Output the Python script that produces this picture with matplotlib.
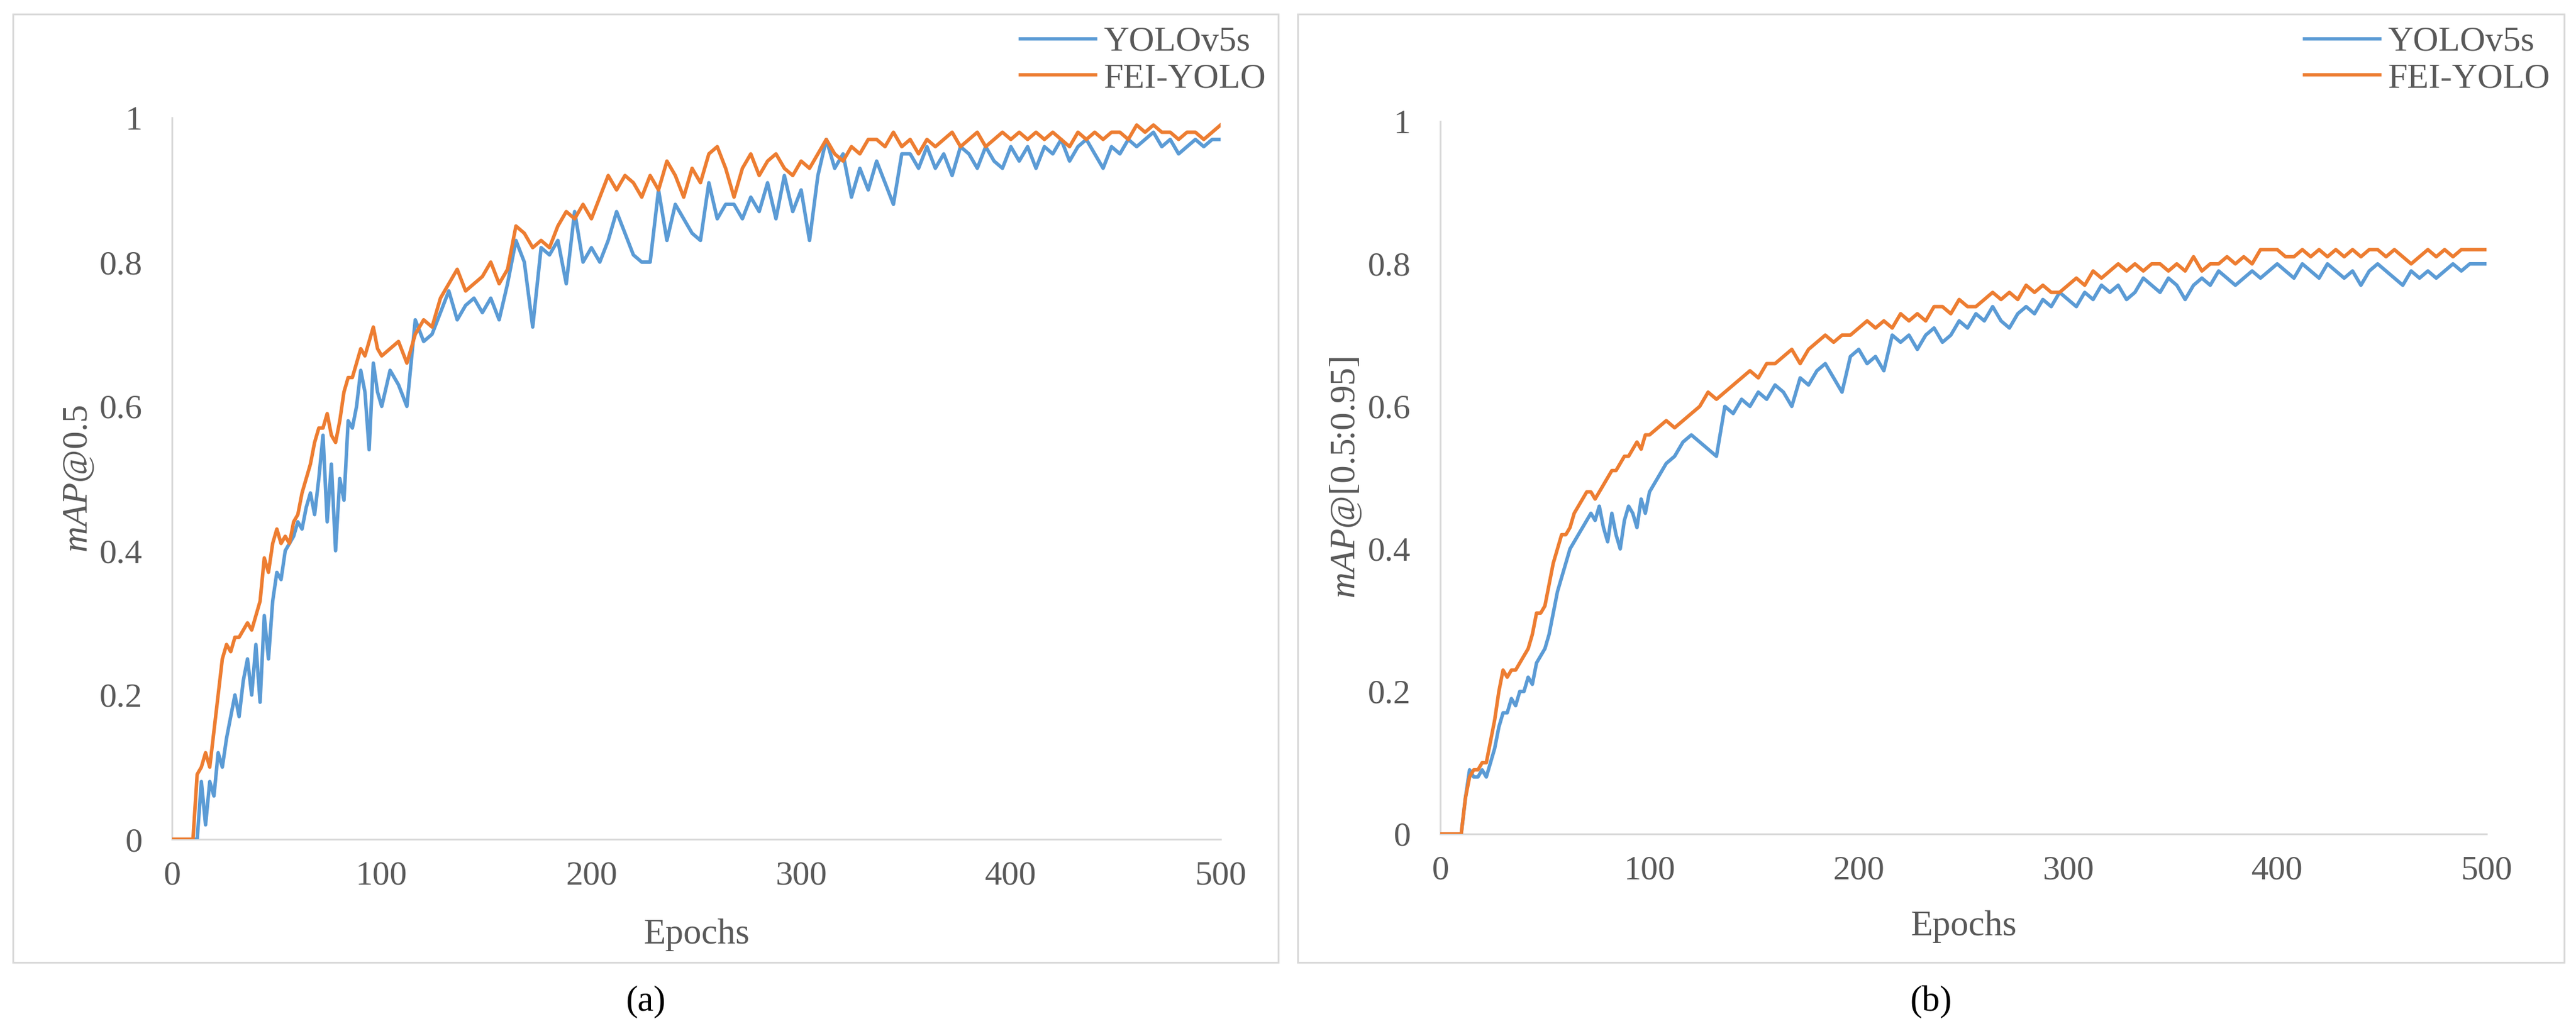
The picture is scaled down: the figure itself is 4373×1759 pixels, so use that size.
import matplotlib
matplotlib.use("Agg")
import matplotlib.pyplot as plt
from matplotlib.patches import Rectangle

plt.rcParams['font.family'] = ['Liberation Serif', 'DejaVu Serif']
plt.rcParams['mathtext.fontset'] = 'custom'
plt.rcParams['mathtext.it'] = 'Liberation Serif:italic'
plt.rcParams['mathtext.rm'] = 'Liberation Serif'

# ---------------- data ----------------
epochs = list(range(0, 101, 2)) + list(range(104, 501, 4))

yolo_a = [
    0, 0, 0, 0, 0, 0, 0.00, 0.08, 0.02, 0.08,
    0.06, 0.12, 0.10, 0.14, 0.17, 0.20, 0.17, 0.22, 0.25, 0.20,
    0.27, 0.19, 0.31, 0.25, 0.33, 0.37, 0.36, 0.40, 0.41, 0.42,
    0.44, 0.43, 0.46, 0.48, 0.45, 0.50, 0.56, 0.44, 0.52, 0.40,
    0.50, 0.47, 0.58, 0.57, 0.60, 0.65, 0.62, 0.54, 0.66, 0.62,
    0.60,
    0.65, 0.63, 0.60, 0.72, 0.69, 0.70, 0.73, 0.76, 0.72, 0.74,
    0.75, 0.73, 0.75, 0.72, 0.77, 0.83, 0.80, 0.71, 0.82, 0.81,
    0.83, 0.77, 0.87, 0.80, 0.82, 0.80, 0.83, 0.87, 0.84, 0.81,
    0.80, 0.80, 0.90, 0.83, 0.88, 0.86, 0.84, 0.83, 0.91, 0.86,
    0.88, 0.88, 0.86, 0.89, 0.87, 0.91, 0.86, 0.92, 0.87, 0.90,
    0.83, 0.92, 0.97, 0.93, 0.95, 0.89, 0.93, 0.90, 0.94, 0.91,
    0.88, 0.95, 0.95, 0.93, 0.96, 0.93, 0.95, 0.92, 0.96, 0.95,
    0.93, 0.96, 0.94, 0.93, 0.96, 0.94, 0.96, 0.93, 0.96, 0.95,
    0.97, 0.94, 0.96, 0.97, 0.95, 0.93, 0.96, 0.95, 0.97, 0.96,
    0.97, 0.98, 0.96, 0.97, 0.95, 0.96, 0.97, 0.96, 0.97, 0.97,
]

fei_a = [
    0, 0, 0, 0, 0, 0.00, 0.09, 0.10, 0.12, 0.10,
    0.15, 0.20, 0.25, 0.27, 0.26, 0.28, 0.28, 0.29, 0.30, 0.29,
    0.31, 0.33, 0.39, 0.37, 0.41, 0.43, 0.41, 0.42, 0.41, 0.44,
    0.45, 0.48, 0.50, 0.52, 0.55, 0.57, 0.57, 0.59, 0.56, 0.55,
    0.58, 0.62, 0.64, 0.64, 0.66, 0.68, 0.67, 0.69, 0.71, 0.68,
    0.67,
    0.68, 0.69, 0.66, 0.70, 0.72, 0.71, 0.75, 0.77, 0.79, 0.76,
    0.77, 0.78, 0.80, 0.77, 0.79, 0.85, 0.84, 0.82, 0.83, 0.82,
    0.85, 0.87, 0.86, 0.88, 0.86, 0.89, 0.92, 0.90, 0.92, 0.91,
    0.89, 0.92, 0.90, 0.94, 0.92, 0.89, 0.93, 0.91, 0.95, 0.96,
    0.93, 0.89, 0.93, 0.95, 0.92, 0.94, 0.95, 0.93, 0.92, 0.94,
    0.93, 0.95, 0.97, 0.95, 0.94, 0.96, 0.95, 0.97, 0.97, 0.96,
    0.98, 0.96, 0.97, 0.95, 0.97, 0.96, 0.97, 0.98, 0.96, 0.97,
    0.98, 0.96, 0.97, 0.98, 0.97, 0.98, 0.97, 0.98, 0.97, 0.98,
    0.97, 0.96, 0.98, 0.97, 0.98, 0.97, 0.98, 0.98, 0.97, 0.99,
    0.98, 0.99, 0.98, 0.98, 0.97, 0.98, 0.98, 0.97, 0.98, 0.99,
]

yolo_b = [
    0, 0, 0, 0, 0, 0, 0.05, 0.09, 0.08, 0.08,
    0.09, 0.08, 0.10, 0.12, 0.15, 0.17, 0.17, 0.19, 0.18, 0.20,
    0.20, 0.22, 0.21, 0.24, 0.25, 0.26, 0.28, 0.31, 0.34, 0.36,
    0.38, 0.40, 0.41, 0.42, 0.43, 0.44, 0.45, 0.44, 0.46, 0.43,
    0.41, 0.45, 0.42, 0.40, 0.44, 0.46, 0.45, 0.43, 0.47, 0.45,
    0.48,
    0.50, 0.52, 0.53, 0.55, 0.56, 0.55, 0.54, 0.53, 0.60, 0.59,
    0.61, 0.60, 0.62, 0.61, 0.63, 0.62, 0.60, 0.64, 0.63, 0.65,
    0.66, 0.64, 0.62, 0.67, 0.68, 0.66, 0.67, 0.65, 0.70, 0.69,
    0.70, 0.68, 0.70, 0.71, 0.69, 0.70, 0.72, 0.71, 0.73, 0.72,
    0.74, 0.72, 0.71, 0.73, 0.74, 0.73, 0.75, 0.74, 0.76, 0.75,
    0.74, 0.76, 0.75, 0.77, 0.76, 0.77, 0.75, 0.76, 0.78, 0.77,
    0.76, 0.78, 0.77, 0.75, 0.77, 0.78, 0.77, 0.79, 0.78, 0.77,
    0.78, 0.79, 0.78, 0.79, 0.80, 0.79, 0.78, 0.80, 0.79, 0.78,
    0.80, 0.79, 0.78, 0.79, 0.77, 0.79, 0.80, 0.79, 0.78, 0.77,
    0.79, 0.78, 0.79, 0.78, 0.79, 0.80, 0.79, 0.80, 0.80, 0.80,
]

fei_b = [
    0, 0, 0, 0, 0, 0, 0.05, 0.08, 0.09, 0.09,
    0.10, 0.10, 0.13, 0.16, 0.20, 0.23, 0.22, 0.23, 0.23, 0.24,
    0.25, 0.26, 0.28, 0.31, 0.31, 0.32, 0.35, 0.38, 0.40, 0.42,
    0.42, 0.43, 0.45, 0.46, 0.47, 0.48, 0.48, 0.47, 0.48, 0.49,
    0.50, 0.51, 0.51, 0.52, 0.53, 0.53, 0.54, 0.55, 0.54, 0.56,
    0.56,
    0.57, 0.58, 0.57, 0.58, 0.59, 0.60, 0.62, 0.61, 0.62, 0.63,
    0.64, 0.65, 0.64, 0.66, 0.66, 0.67, 0.68, 0.66, 0.68, 0.69,
    0.70, 0.69, 0.70, 0.70, 0.71, 0.72, 0.71, 0.72, 0.71, 0.73,
    0.72, 0.73, 0.72, 0.74, 0.74, 0.73, 0.75, 0.74, 0.74, 0.75,
    0.76, 0.75, 0.76, 0.75, 0.77, 0.76, 0.77, 0.76, 0.76, 0.77,
    0.78, 0.77, 0.79, 0.78, 0.79, 0.80, 0.79, 0.80, 0.79, 0.80,
    0.80, 0.79, 0.80, 0.79, 0.81, 0.79, 0.80, 0.80, 0.81, 0.80,
    0.81, 0.80, 0.82, 0.82, 0.82, 0.81, 0.81, 0.82, 0.81, 0.82,
    0.81, 0.82, 0.81, 0.82, 0.81, 0.82, 0.82, 0.81, 0.82, 0.81,
    0.80, 0.81, 0.82, 0.81, 0.82, 0.81, 0.82, 0.82, 0.82, 0.82,
]

series_names = ["YOLOv5s", "FEI-YOLO"]
x_ticks = [0, 100, 200, 300, 400, 500]
y_ticks = [0, 0.2, 0.4, 0.6, 0.8, 1.0]
y_tick_labels = ["0", "0.2", "0.4", "0.6", "0.8", "1"]
x_label = "Epochs"
y_labels = [r"$mAP$@0.5", r"$mAP$@[0.5:0.95]"]
captions = ["(a)", "(b)"]

# ---------------- style ----------------
W, H = 4373, 1759
DPI = 100
BLUE = "#5B9BD5"
ORANGE = "#ED7D31"
GRID = "#D9D9D9"
TXT = "#595959"
FS = 42

fig = plt.figure(figsize=(W / DPI, H / DPI), dpi=DPI)
fig.patch.set_facecolor("white")


def fx(px):
    return px / W


def fy(py):
    return 1 - py / H


panels = [
    dict(ax=(292, 2072, 200, 1425), box=(22, 2170, 24, 1634), yl=134,
         xl_base=1602, leg=(1732, 68), data=(yolo_a, fei_a)),
    dict(ax=(2445, 4221, 206, 1416), box=(2203, 4353, 24, 1634), yl=2285,
         xl_base=1588, leg=(3912, 68), data=(yolo_b, fei_b)),
]

for i, p in enumerate(panels):
    x0, x1, ytop, ybot = p["ax"]
    bx0, bx1, by0, by1 = p["box"]
    fig.patches.append(Rectangle((fx(bx0), fy(by1)), fx(bx1 - bx0), (by1 - by0) / H,
                                 transform=fig.transFigure, fill=False,
                                 edgecolor=GRID, linewidth=2.2, zorder=0))
    ax = fig.add_axes([fx(x0), fy(ybot), fx(x1 - x0), (ybot - ytop) / H])
    yv, fv = p["data"]
    l1, = ax.plot(epochs, yv, color=BLUE, lw=4.3, label=series_names[0],
                  solid_joinstyle="round", zorder=3)
    l2, = ax.plot(epochs, fv, color=ORANGE, lw=4.3, label=series_names[1],
                  solid_joinstyle="round", zorder=4)
    ax.set_xlim(0, 500)
    ax.set_ylim(0, 1)
    ax.set_xticks(x_ticks)
    ax.set_xticklabels([str(t) for t in x_ticks])
    ax.set_yticks(y_ticks)
    ax.set_yticklabels(y_tick_labels)
    for s in ["top", "right"]:
        ax.spines[s].set_visible(False)
    for s in ["left", "bottom"]:
        ax.spines[s].set_color(GRID)
        ax.spines[s].set_linewidth(2.2)
    ax.tick_params(axis="both", length=0, labelsize=FS, labelcolor=TXT)
    ax.tick_params(axis="x", pad=26)
    ax.tick_params(axis="y", pad=36)
    ax.set_facecolor("none")
    ax.patch.set_alpha(0)

    # axis titles
    fig.text(fx(p["yl"]), fy((ytop + ybot) / 2), y_labels[i], rotation=90,
             ha="center", va="center", fontsize=44, color=TXT)
    fig.text(fx((x0 + x1) / 2), fy(p["xl_base"]), x_label, ha="center",
             va="baseline", fontsize=44, color=TXT)
    fig.text(fx((bx0 + bx1) / 2), fy(1716), captions[i], ha="center",
             va="baseline", fontsize=44, color="black")

    # legend
    lx, ly = p["leg"]
    leg = ax.legend(handles=[l1, l2], loc="center left",
                    bbox_to_anchor=(fx(lx), fy(ly + 35)),
                    bbox_transform=fig.transFigure, frameon=False,
                    fontsize=43, handlelength=2.15, handletextpad=0.22,
                    labelspacing=0.12, borderpad=0, borderaxespad=0)
    for t in leg.get_texts():
        t.set_color(TXT)
    for h in leg.legend_handles:
        h.set_linewidth(4)

fig.savefig("out.png", dpi=DPI, facecolor="white")
